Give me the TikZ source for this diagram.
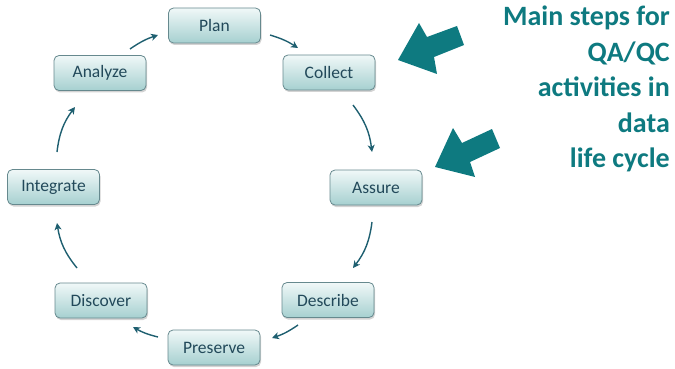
\documentclass[tikz,border=0pt]{standalone}
\usepackage{fontspec}
\setmainfont{Carlito}
\usetikzlibrary{arrows.meta,shadows,calc}
\definecolor{teal1}{HTML}{0E7A80}
\definecolor{boxtxt}{HTML}{22495A}
\definecolor{boxline}{HTML}{66898E}
\definecolor{boxtop}{HTML}{F0F8F8}
\definecolor{boxbot}{HTML}{A6D0D0}
\definecolor{conn}{HTML}{1E5F70}
\tikzset{
  stepbox/.style={draw=boxline, line width=0.8pt, rounded corners=5pt,
    top color=boxtop, bottom color=boxbot, minimum width=92pt, minimum height=35pt,
    inner sep=0pt, text=boxtxt, font=\fontsize{17.5}{20}\selectfont,
    drop shadow={shadow xshift=1pt, shadow yshift=-2pt, opacity=0.35}},
  conn/.style={draw=conn, line width=1.4pt, -{Stealth[length=7pt,width=7pt,inset=2pt]}},
  bigarrow/.style={fill=teal1, draw=none},
}
\begin{document}
\begin{tikzpicture}[x=1pt,y=-1pt]
\useasboundingbox (0,0) rectangle (675,369);
\node[stepbox] (plan) at (214.5,25.5) {Plan};
\node[stepbox] (collect) at (329,72.5) {Collect};
\node[stepbox] (analyze) at (100,73) {Analyze};
\node[stepbox] (integrate) at (53.5,187) {Integrate};
\node[stepbox] (assure) at (376,187.5) {Assure};
\node[stepbox] (discover) at (101,300.5) {Discover};
\node[stepbox] (describe) at (328,300) {Describe};
\node[stepbox] (preserve) at (214,347.5) {Preserve};

\draw[conn] ($(plan)+(55.5,9.5)$) to[bend left=8] ($(collect)+(-31,-24.5)$);
\draw[conn] ($(collect)+(24,32.5)$) to[bend left=15] ($(assure)+(-4,-35.5)$);
\draw[conn] ($(assure)+(-4,34.5)$) to[bend left=15] ($(describe)+(25,-32)$);
\draw[conn] ($(describe)+(-30,25)$) to[bend left=8] ($(preserve)+(58,-9.5)$);
\draw[conn] ($(preserve)+(-56,-10.5)$) to[bend left=8] ($(discover)+(32,26.5)$);
\draw[conn] ($(discover)+(-24,-32.5)$) to[bend left=15] ($(integrate)+(3.5,36)$);
\draw[conn] ($(integrate)+(3.5,-35)$) to[bend left=15] ($(analyze)+(-25,34)$);
\draw[conn] ($(analyze)+(30,-24)$) to[bend left=8] ($(plan)+(-56.5,9.5)$);

\path[bigarrow] (398,60) -- (419,23) -- (427,37) -- (457,26) -- (464,45) -- (434,57) -- (437,74) -- cycle;
\path[bigarrow] (435,167) -- (453,128) -- (462,143) -- (492,129) -- (500,148) -- (470,162) -- (475,177) -- cycle;

\node[anchor=north east, align=right, text=teal1, font=\fontsize{28}{35.5}\selectfont\bfseries, inner sep=0pt] (title) at (670,6)
  {Main steps for\\QA/QC\\activities in\\data\\life cycle};
\end{tikzpicture}
\end{document}
